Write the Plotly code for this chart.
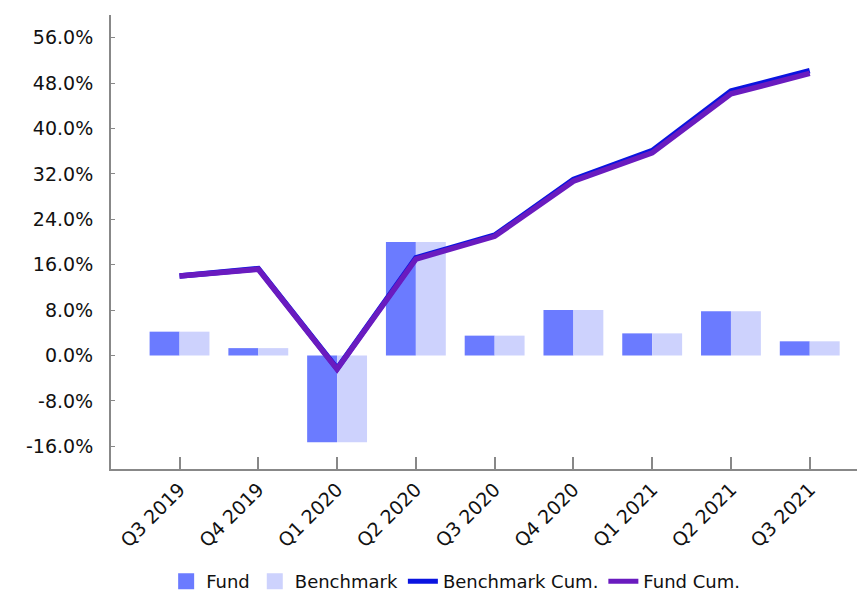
import plotly.graph_objects as go

quarters = ["Q3 2019", "Q4 2019", "Q1 2020", "Q2 2020", "Q3 2020",
            "Q4 2020", "Q1 2021", "Q2 2021", "Q3 2021"]
fund = [4.2, 1.3, -15.3, 20.0, 3.5, 8.0, 3.9, 7.8, 2.5]
benchmark = [4.2, 1.3, -15.3, 20.0, 3.5, 8.0, 3.9, 7.8, 2.5]
benchmark_cum = [14.0, 15.3, -2.3, 17.2, 21.2, 31.0, 36.1, 46.6, 50.2]
fund_cum = [14.0, 15.2, -2.4, 17.0, 21.0, 30.7, 35.7, 46.1, 49.7]
y_ticks = [-16, -8, 0, 8, 16, 24, 32, 40, 48, 56]

FONT = "DejaVu Sans, Verdana, sans-serif"
FUND_C = "#6b7bff"
BENCH_C = "#cdd2fd"

fig = go.Figure()
fig.add_trace(go.Bar(x=quarters, y=fund, name="Fund", showlegend=False,
                     marker=dict(color=FUND_C, line=dict(width=0))))
fig.add_trace(go.Bar(x=quarters, y=benchmark, name="Benchmark", showlegend=False,
                     marker=dict(color=BENCH_C, line=dict(width=0))))
fig.add_trace(go.Scatter(x=quarters, y=benchmark_cum, name="Benchmark Cum.", mode="lines",
                         showlegend=False, line=dict(color="#0a14e0", width=5.5)))
fig.add_trace(go.Scatter(x=quarters, y=fund_cum, name="Fund Cum.", mode="lines",
                         showlegend=False, line=dict(color="#6a1bbf", width=5.5)))

# legend entries (larger square swatches like the reference)
fig.add_trace(go.Scatter(x=[None], y=[None], name="Fund", mode="markers",
                         marker=dict(symbol="square", size=20, color=FUND_C)))
fig.add_trace(go.Scatter(x=[None], y=[None], name="Benchmark", mode="markers",
                         marker=dict(symbol="square", size=20, color=BENCH_C)))
fig.add_trace(go.Scatter(x=[None], y=[None], name="Benchmark Cum.", mode="lines",
                         line=dict(color="#0a14e0", width=5)))
fig.add_trace(go.Scatter(x=[None], y=[None], name="Fund Cum.", mode="lines",
                         line=dict(color="#6a1bbf", width=5)))

fig.update_layout(
    width=858, height=599,
    margin=dict(l=111, r=1, t=15, b=130, autoexpand=False),
    paper_bgcolor="white", plot_bgcolor="white",
    barmode="group", bargap=0.24, bargroupgap=0,
    font=dict(family=FONT, size=18, color="#111111"),
    showlegend=True,
    legend=dict(orientation="h", x=0.462, xanchor="center", y=-0.248, yanchor="middle",
                font=dict(family=FONT, size=18, color="#111111"), traceorder="normal",
                itemwidth=30, bgcolor="rgba(0,0,0,0)"),
    xaxis=dict(range=[-0.87, 8.6], showline=True, linecolor="#888888", linewidth=2,
               ticks="inside", ticklen=12, tickwidth=2, tickcolor="#888888",
               tickangle=-45, showgrid=False, zeroline=False, automargin=False,
               tickfont=dict(family=FONT, size=19)),
    yaxis=dict(range=[-20, 60], tickvals=y_ticks, ticktext=[f"{v:.1f}%" for v in y_ticks],
               showline=True, linecolor="#888888", linewidth=2,
               ticks="inside", ticklen=4, tickwidth=1, tickcolor="#888888",
               showgrid=False, zeroline=False, ticklabelstandoff=12, automargin=False,
               tickfont=dict(family=FONT, size=19)),
)

fig.write_html("out.html", config={"displayModeBar": False},
               post_script="document.body.style.margin='0';document.body.style.overflow='hidden';")
